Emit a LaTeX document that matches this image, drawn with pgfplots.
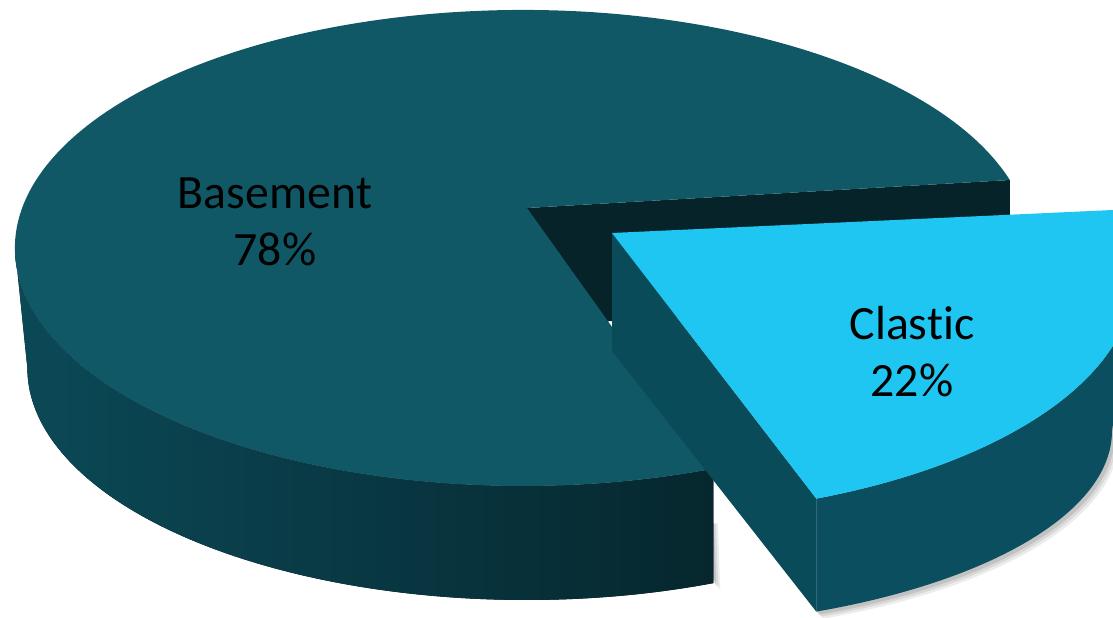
\documentclass[border=0pt]{standalone}
\usepackage{pgfplots}
\pgfplotsset{compat=1.18}
\usepackage{pgfplotstable}
\usepackage{fontspec}
\setmainfont{Carlito}[Ligatures=NoCommon]
\definecolor{topmain}{HTML}{115866}
\definecolor{sideL}{HTML}{0B4957}
\definecolor{sideR}{HTML}{06272E}
\definecolor{backface}{HTML}{062329}
\definecolor{clastictop}{HTML}{20C6F2}
\definecolor{clasticside}{HTML}{0B4E5F}
\definecolor{clasticface}{HTML}{0A4B5A}
\pgfplotstableread{
label value
Basement 78
Clastic 22
}\piedata
\pgfplotstablegetelem{0}{value}\of\piedata \let\pB\pgfplotsretval
\pgfplotstablegetelem{1}{value}\of\piedata \let\pC\pgfplotsretval
% geometry (pixels of the reference)
\def\cx{523}\def\cy{248}\def\ra{508}\def\rb{238}\def\hh{118}
\def\apx{527}\def\apy{208}
\def\dx{103}\def\dy{30}
\def\capx{612}\def\capy{233}
% bottom rims (perspective: smaller, flatter)
\def\bcx{524}\def\bcy{368}   % main bottom ellipse, radii 4.99cm x 2.32cm
\def\ccx{620}\def\ccy{431}   % clastic bottom ellipse, radii 4.92cm x 1.97cm
% slice edges; +5.4 deg: perspective widening of the front
\pgfmathsetmacro\ta{-68}
\pgfmathsetmacro\tb{\ta+3.6*\pC+5.4}
\pgfmathsetmacro\tend{\ta+360}
\pgfmathsetmacro\Xa{\cx+\ra*cos(\ta)}
\pgfmathsetmacro\Ya{\cy-\rb*sin(\ta)}
\pgfmathsetmacro\bYa{\bcy-232*sin(\ta)}
\pgfmathsetmacro\Xb{\cx+\ra*cos(\tb)}
\pgfmathsetmacro\Yb{\cy-\rb*sin(\tb)}
\pgfmathsetmacro\Ybh{\Yb+\hh}
\pgfmathsetmacro\Xl{\cx-\ra}
\pgfmathsetmacro\bXl{\bcx-499}
\pgfmathsetmacro\apyh{\apy+\hh}
% clastic (exploded)
\pgfmathsetmacro\capyh{\capy+\hh}
\pgfmathsetmacro\cXa{\Xa+\dx}
\pgfmathsetmacro\cYa{\Ya+\dy}
\pgfmathsetmacro\ctb{acos((\cXa-\ccx)/492)}
\pgfmathsetmacro\ctbn{-\ctb}
\pgfmathsetmacro\cYah{\ccy+197*sin(\ctb)}
\pgfmathsetmacro\cXr{\cx+\ra+\dx}
\pgfmathsetmacro\cYr{\cy+\dy}
\pgfmathsetmacro\cXrb{\ccx+492}
\newcommand\shadowlayer[2]{%
\fill[black!60, opacity=#2] (axis cs:\bXl+#1,\bcy-60) arc[start angle=180, end angle=\tend, x radius=4.99cm, y radius=2.32cm] -- (axis cs:\Xa+#1,\bYa+#1) -- (axis cs:\Xa-30,\bYa-60) -- cycle;
\fill[black!60, opacity=#2] (axis cs:\capx,\capyh) -- (axis cs:\cXa+#1,\cYah+#1) arc[start angle=\ctbn, end angle=0, x radius=4.92cm, y radius=1.97cm] -- (axis cs:\cXr,\cYr) -- (axis cs:\capx,\capy) -- cycle;}
\begin{document}
\begin{tikzpicture}
\begin{axis}[scale only axis, width=11.13cm, height=6.18cm,
  xmin=0, xmax=1113, ymin=0, ymax=618, y dir=reverse, hide axis, clip=true]
\addplot[draw=none] coordinates {(0,0) (1113,618)};
% soft shadows
\shadowlayer{7}{0.12}
\shadowlayer{5}{0.15}
\shadowlayer{3}{0.2}
% main pie: back radial face
\fill[backface] (axis cs:\apx,\apy) -- (axis cs:\Xb,\Yb) -- (axis cs:\Xb,\Ybh) -- (axis cs:\apx,\apyh) -- cycle;
% main pie: outer side
\fill[left color=sideL, right color=sideR] (axis cs:\Xl,\cy) arc[start angle=180, end angle=\tend, x radius=5.08cm, y radius=2.38cm] -- (axis cs:\Xa,\bYa) arc[start angle=\tend, end angle=180, x radius=4.99cm, y radius=2.32cm] -- cycle;
% main pie: top
\fill[topmain] (axis cs:\apx,\apy) -- (axis cs:\Xb,\Yb) arc[start angle=\tb, end angle=\tend, x radius=5.08cm, y radius=2.38cm] -- cycle;
% clastic: left radial face
\fill[clasticface] (axis cs:\capx,\capy) -- (axis cs:\cXa,\cYa) -- (axis cs:\cXa,\cYah) -- (axis cs:\capx,\capyh) -- cycle;
% clastic: outer side
\fill[clasticside] (axis cs:\cXa,\cYa) arc[start angle=\ta, end angle=0, x radius=5.08cm, y radius=2.38cm] -- (axis cs:\cXrb,\ccy) arc[start angle=0, end angle=\ctbn, x radius=4.92cm, y radius=1.97cm] -- cycle;
% clastic: top
\fill[clastictop] (axis cs:\capx,\capy) -- (axis cs:\cXa,\cYa) arc[start angle=\ta, end angle=\tb, x radius=5.08cm, y radius=2.38cm] -- cycle;
% labels
\node[align=center, font=\fontsize{13.6}{16.2}\selectfont, text=black] at (axis cs:275,222) {Basement\\\pB\%};
\node[align=center, font=\fontsize{13.6}{16.2}\selectfont, text=black] at (axis cs:912,352) {Clastic\\\pC\%};
\end{axis}
\end{tikzpicture}
\end{document}
